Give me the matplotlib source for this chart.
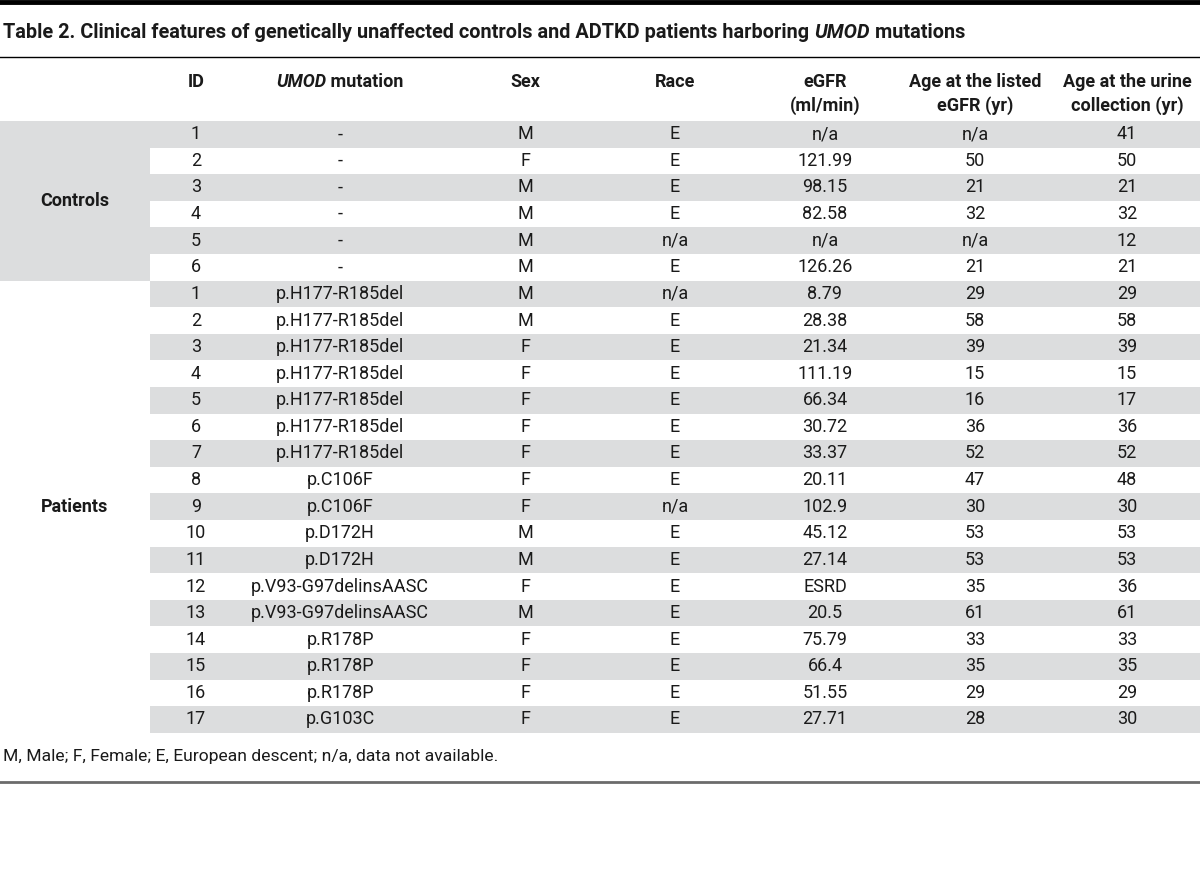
import matplotlib
matplotlib.use("Agg")
import matplotlib.pyplot as plt
from matplotlib.patches import Rectangle

plt.rcParams['font.family'] = ['Roboto', 'DejaVu Sans']

title_parts = [("Table 2. Clinical features of genetically unaffected controls and ADTKD patients harboring ", "normal"),
               ("UMOD", "italic"),
               (" mutations", "normal")]
footnote = "M, Male; F, Female; E, European descent; n/a, data not available."

groups = ["Controls", "Patients"]
group_sizes = [6, 17]

ids = [1, 2, 3, 4, 5, 6,
       1, 2, 3, 4, 5, 6, 7, 8, 9, 10, 11, 12, 13, 14, 15, 16, 17]
mutation = ["-"] * 6 + ["p.H177-R185del"] * 7 + ["p.C106F"] * 2 + ["p.D172H"] * 2 \
    + ["p.V93-G97delinsAASC"] * 2 + ["p.R178P"] * 3 + ["p.G103C"]
sex = ["M", "F", "M", "M", "M", "M",
       "M", "M", "F", "F", "F", "F", "F", "F", "F", "M", "M", "F", "M", "F", "F", "F", "F"]
race = ["E", "E", "E", "E", "n/a", "E",
        "n/a", "E", "E", "E", "E", "E", "E", "E", "n/a", "E", "E", "E", "E", "E", "E", "E", "E"]
egfr = ["n/a", "121.99", "98.15", "82.58", "n/a", "126.26",
        "8.79", "28.38", "21.34", "111.19", "66.34", "30.72", "33.37", "20.11", "102.9",
        "45.12", "27.14", "ESRD", "20.5", "75.79", "66.4", "51.55", "27.71"]
age_egfr = ["n/a", "50", "21", "32", "n/a", "21",
            "29", "58", "39", "15", "16", "36", "52", "47", "30", "53", "53", "35", "61", "33", "35", "29", "28"]
age_urine = ["41", "50", "21", "32", "12", "21",
             "29", "58", "39", "15", "17", "36", "52", "48", "30", "53", "53", "36", "61", "33", "35", "29", "30"]

# column headers: list of lines, each line a list of (text, style)
headers = [
    [[("ID", "normal")]],
    [[("UMOD", "italic"), (" mutation", "normal")]],
    [[("Sex", "normal")]],
    [[("Race", "normal")]],
    [[("eGFR", "normal")], [("(ml/min)", "normal")]],
    [[("Age at the listed", "normal")], [("eGFR (yr)", "normal")]],
    [[("Age at the urine", "normal")], [("collection (yr)", "normal")]],
]
col_x = [196, 340, 525, 675, 825, 975, 1127]

GREY = "#dcddde"
TXT = "#1a1a1a"
FS = 13
TITLE_FS = 14.3
row_h = 26.6
top = 121
label_w = 150

fig = plt.figure(figsize=(12, 8.92), dpi=100)
ax = fig.add_axes([0, 0, 1, 1])
ax.set_xlim(0, 1200)
ax.set_ylim(892, 0)
ax.axis("off")
renderer = fig.canvas.get_renderer()


def run_width(text, style, weight, fs):
    t = ax.text(0, 0, text, fontsize=fs, fontstyle=style, fontweight=weight)
    bb = t.get_window_extent(renderer)
    t.remove()
    return bb.width


def draw_runs(x, y, runs, weight="bold", align="center", fs=FS):
    # keep trailing/leading spaces: measure with a guard char
    widths = []
    for text, style in runs:
        w = run_width("|" + text + "|", style, weight, fs) - run_width("||", style, weight, fs)
        widths.append(w)
    total = sum(widths)
    cx = x - total / 2 if align == "center" else x
    for (text, style), w in zip(runs, widths):
        ax.text(cx, y, text, fontsize=fs, fontstyle=style, fontweight=weight,
                ha="left", va="center", color=TXT)
        cx += w


# rules
ax.axhline(2, color="black", lw=3.5)
ax.axhline(57, color="black", lw=1.0)
ax.axhline(782, color="#6b6b6b", lw=2.0)

draw_runs(3, 33, title_parts, align="left", fs=TITLE_FS)

for lines, x in zip(headers, col_x):
    for k, runs in enumerate(lines):
        draw_runs(x, 82 + 24 * k, runs)

# zebra stripes and group blocks
n_rows = len(ids)
for i in range(n_rows):
    if i % 2 == 0:
        ax.add_patch(Rectangle((label_w, top + i * row_h), 1200 - label_w, row_h,
                               facecolor=GREY, edgecolor="none"))

start = 0
for g, size in zip(groups, group_sizes):
    if g == "Controls":
        ax.add_patch(Rectangle((0, top + start * row_h), label_w, size * row_h,
                               facecolor=GREY, edgecolor="none"))
    ax.text(75, top + (start + size / 2) * row_h, g, fontsize=FS, fontweight="bold",
            ha="center", va="center", color=TXT)
    start += size

columns = [ids, mutation, sex, race, egfr, age_egfr, age_urine]
for col, x in zip(columns, col_x):
    for i, val in enumerate(col):
        ax.text(x, top + (i + 0.5) * row_h, str(val), fontsize=FS,
                ha="center", va="center", color=TXT)

ax.text(3, 756, footnote, fontsize=12.6, ha="left", va="center", color=TXT)

fig.savefig("out.png", dpi=100)
